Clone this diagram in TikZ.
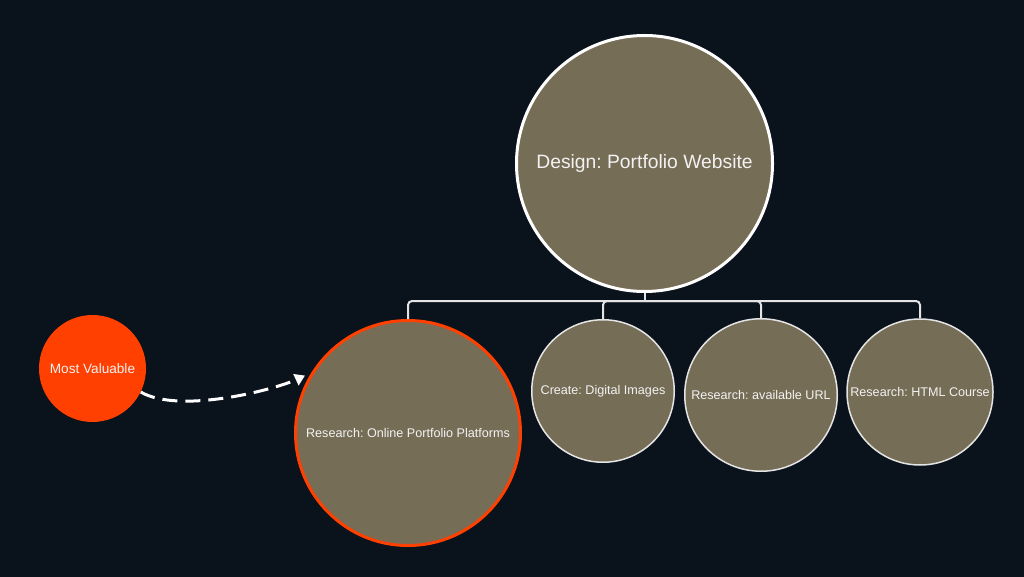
\documentclass[tikz,border=0pt]{standalone}
\usepackage{fontspec}
\setmainfont{Liberation Sans}
\usetikzlibrary{arrows.meta,positioning}
\definecolor{night}{HTML}{0A121C}
\definecolor{taupe}{HTML}{766D56}
\definecolor{flame}{HTML}{FF4000}
\definecolor{rim}{HTML}{E4E4E4}
\definecolor{ink}{HTML}{F2F2F2}
\frenchspacing
\tikzstyle{goal} = [circle, draw=white, line width=3pt, fill=taupe, text=ink, inner sep=0pt, minimum size=256pt, font=\fontsize{19.3}{22}\selectfont]
\tikzstyle{task} = [circle, draw=rim, line width=1.5pt, fill=taupe, text=ink, inner sep=0pt, font=\fontsize{12.6}{15}\selectfont]
\tikzstyle{pick} = [circle, fill=flame, text=ink, inner sep=0pt, minimum size=107pt, font=\fontsize{13.6}{16}\selectfont]
\tikzstyle{tree} = [draw=rim, line width=2pt, rounded corners=4pt]

\begin{document}
\begin{tikzpicture}[x=1pt, y=1pt, node distance=158pt]
	\tikzset{hint/.style={draw=white, line width=3pt, dash pattern=on 15pt off 8pt, -{Triangle[width=12pt,length=10pt]}, shorten >=7pt}};
	\fill [night] (0,0) rectangle (1024,-577);
	\node [goal] (main) at (644.5,-163.5) {Design: Portfolio Website};
	\node [task, minimum size=142.5pt, below of=main, node distance=227.5pt, xshift=-41.5pt] (create) {Create: Digital Images};
	\node [task, minimum size=152.5pt, right of=create, node distance=158pt, yshift=-4pt] (url) {Research: available URL};
	\node [task, minimum size=146pt, right of=url, node distance=159pt, yshift=3pt] (html) {Research: HTML Course};
	\node [task, draw=flame, line width=3pt, minimum size=225pt, left of=create, node distance=195pt, yshift=-42pt] (online) {Research: Online Portfolio Platforms};
	\node [pick, left of=online, node distance=315.5pt, yshift=64.5pt] (most) {Most Valuable};
	\coordinate [below=8pt of main.south] (hub);
	\path [tree] (main.south) -- (hub);
	\path [tree] (hub) -| (online.north);
	\path [tree] (hub) -| (create.north);
	\path [tree] (hub) -| (url.north);
	\path [tree] (hub) -| (html.north);
	\path [hint] (most.-26) .. controls +(-30:45pt) and +(205:40pt) .. (online.148);
\end{tikzpicture}
\end{document}
